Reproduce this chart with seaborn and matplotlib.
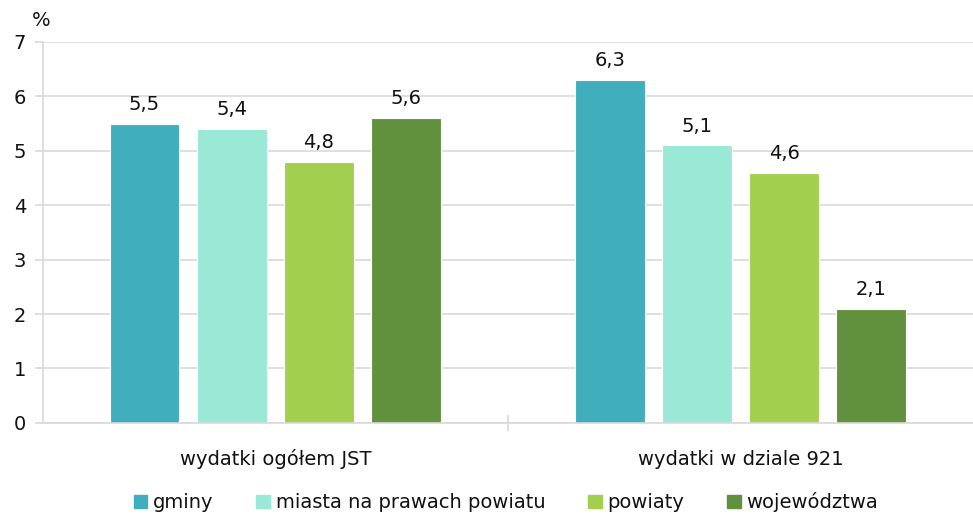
import pandas as pd
import matplotlib.pyplot as plt
import seaborn as sns

# Data
categories = ['wydatki ogółem JST', 'wydatki w dziale 921']
series = ['gminy', 'miasta na prawach powiatu', 'powiaty', 'województwa']
gminy = [5.5, 6.3]
miasta = [5.4, 5.1]
powiaty = [4.8, 4.6]
wojewodztwa = [5.6, 2.1]
colors = ['#41AEBD', '#9AE9D7', '#A3CF4E', '#62913E']

rows = []
for name, vals in zip(series, [gminy, miasta, powiaty, wojewodztwa]):
    for cat, v in zip(categories, vals):
        rows.append({'kategoria': cat, 'typ': name, 'wartosc': v})
df = pd.DataFrame(rows)

sns.set_theme(style="white")
plt.rcParams['font.family'] = ['DejaVu Sans']
txt_c = '#111111'

fig = plt.figure(figsize=(9.73, 5.17), dpi=100)
ax = fig.add_axes([0.044, 0.182, 0.956, 0.737])

sns.barplot(data=df, x='kategoria', y='wartosc', hue='typ', hue_order=series,
            order=categories, palette=colors, saturation=1, width=0.75, gap=0.2,
            edgecolor='white', linewidth=0.8, ax=ax, legend=False)

for cont in ax.containers:
    ax.bar_label(cont, labels=[f"{b.get_height():.1f}".replace('.', ',') for b in cont],
                 padding=7, fontsize=14, color=txt_c)

grid_c = '#d9d9d9'
ax.set_ylim(0, 7)
ax.set_yticks(range(0, 8))
ax.yaxis.grid(True, color=grid_c, linewidth=1.2)
ax.set_axisbelow(True)
ax.set_xlim(-0.5, 1.5)
for s in ['top', 'right']:
    ax.spines[s].set_visible(False)
for s in ['left', 'bottom']:
    ax.spines[s].set_color(grid_c)
    ax.spines[s].set_linewidth(1.2)
ax.tick_params(axis='y', left=True, length=6, color=grid_c, width=1.2,
               labelsize=14, labelcolor=txt_c, pad=6)
ax.tick_params(axis='x', bottom=True, length=0, labelsize=14, labelcolor=txt_c, pad=30)
for t in ax.get_xticklabels():
    t.set_va('baseline')
ax.set_xticks([0.5], minor=True)
ax.tick_params(axis='x', which='minor', bottom=True, length=12, direction='inout',
               color=grid_c, width=1.2)
ax.set_xlabel('')
ax.set_ylabel('')

fig.text(0.042, 0.96, '%', fontsize=14, ha='center', va='center', color=txt_c)

handles = [plt.Rectangle((0, 0), 1, 1, color=c) for c in colors]
fig.legend(handles, series, loc='lower center', bbox_to_anchor=(0.52, -0.025), ncol=4,
           frameon=False, fontsize=14, handlelength=0.7, handleheight=0.7,
           handletextpad=0.3, columnspacing=2.2, labelcolor=txt_c)

plt.savefig('out.png', dpi=100)
